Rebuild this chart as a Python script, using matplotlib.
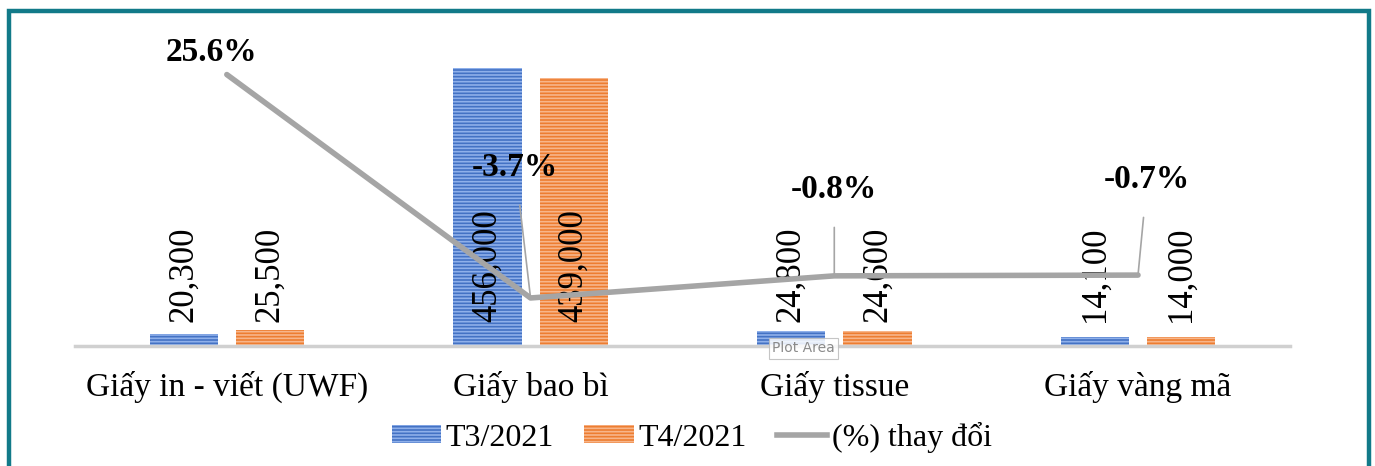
import numpy as np
import matplotlib.pyplot as plt
from matplotlib.patches import Rectangle, Patch
from matplotlib.lines import Line2D

# data
categories = ['Giấy in - viết (UWF)', 'Giấy bao bì', 'Giấy tissue', 'Giấy vàng mã']
t3_2021 = [20300, 456000, 24800, 14100]
t4_2021 = [25500, 439000, 24600, 14000]
pct_change = [25.6, -3.7, -0.8, -0.7]
pct_labels = ['25.6%', '-3.7%', '-0.8%', '-0.7%']

plt.rcParams['font.family'] = ['Liberation Serif', 'DejaVu Serif']
plt.rcParams['hatch.linewidth'] = 1.2

fig = plt.figure(figsize=(13.75, 4.66), dpi=100)
ax = fig.add_axes([0.0545, 0.2575, 0.8836, 0.6545])
ax2 = ax.twinx()

x = np.arange(len(categories))
w = 0.225
off = 0.142
ax.bar(x - off, t3_2021, w, color='#4472c4', edgecolor='#8fb0ea', hatch='-----', linewidth=0, zorder=2)
ax.bar(x + off, t4_2021, w, color='#ed7d31', edgecolor='#f7b58a', hatch='-----', linewidth=0, zorder=2)

for i in range(len(categories)):
    ax.text(x[i] - off, 39000, f'{t3_2021[i]:,}', rotation=90, ha='center', va='bottom', fontsize=25, zorder=5)
    ax.text(x[i] + off, 39000, f'{t4_2021[i]:,}', rotation=90, ha='center', va='bottom', fontsize=25, zorder=5)

ax.set_xlim(-0.5, 3.5)
ax.set_ylim(0, 500000)
ax.set_yticks([])
ax.set_xticks(x)
ax.set_xticklabels(categories, fontsize=24)
ax.tick_params(axis='x', length=0, pad=18)
for s in ['top', 'right', 'left']:
    ax.spines[s].set_visible(False)
ax.spines['bottom'].set_color('#d0d0d0')
ax.spines['bottom'].set_linewidth(2.5)

ax2.plot(x, pct_change, color='#a5a5a5', linewidth=4, solid_capstyle='round', zorder=3)
ax2.set_ylim(-10, 30)
ax2.set_yticks([])
for s in ax2.spines.values():
    s.set_visible(False)

# percent labels with leader lines
label_pos = [(-0.05, 28.5), (-0.05, 13.4), (0.0, 10.5), (0.03, 11.8)]
for i in range(len(categories)):
    dx, ly = label_pos[i]
    if i == 0:
        ax2.text(x[i] + dx, ly, pct_labels[i], ha='center', va='center', fontsize=24, fontweight='bold', zorder=6)
    else:
        ax2.annotate(pct_labels[i], xy=(x[i], pct_change[i]), xytext=(x[i] + dx, ly),
                     ha='center', va='center', fontsize=24, fontweight='bold', zorder=6,
                     arrowprops=dict(arrowstyle='-', color='#a5a5a5', lw=1.2, shrinkA=14, shrinkB=0))

# legend
handles = [Patch(facecolor='#4472c4', edgecolor='#8fb0ea', hatch='-----', linewidth=0),
           Patch(facecolor='#ed7d31', edgecolor='#f7b58a', hatch='-----', linewidth=0),
           Line2D([0], [0], color='#a5a5a5', linewidth=4)]
fig.legend(handles, ['T3/2021', 'T4/2021', '(%) thay đổi'], loc='center', bbox_to_anchor=(0.503, 0.062),
           ncol=3, frameon=False, fontsize=23, handlelength=1.55, handleheight=0.5,
           handletextpad=0.15, columnspacing=0.95)

# "Plot Area" tooltip from the screenshot
fig.text(0.5615, 0.253, 'Plot Area', fontsize=10, color='#8a8a8a', family='DejaVu Sans', va='center',
         bbox=dict(facecolor='white', edgecolor='#bbbbbb', linewidth=0.8, boxstyle='square,pad=0.25', alpha=0.85))

# teal frame
fig.patches.append(Rectangle((8.5 / 1375, -0.05), (1369 - 8.5) / 1375, 1 - 11 / 466 + 0.05,
                             transform=fig.transFigure, fill=False, edgecolor='#127a89', linewidth=3.2))

fig.savefig('out.png', dpi=100)
